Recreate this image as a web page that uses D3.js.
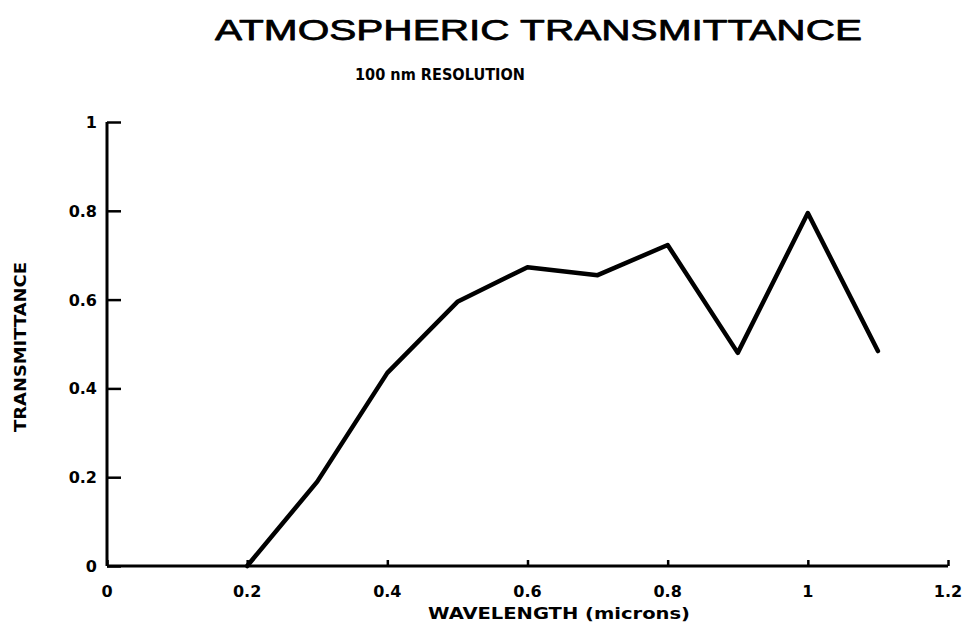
<!DOCTYPE html>
<html>
<head>
<meta charset="utf-8">
<script src="https://cdn.jsdelivr.net/npm/d3@7"></script>
<style>
  html, body { margin: 0; padding: 0; background: #fff; }
  svg { display: block; }
  text { font-family: "Liberation Sans", Arial, sans-serif; fill: #000; }
  .lbl { font-family: "DejaVu Sans", "Liberation Sans", sans-serif; font-weight: bold; }
</style>
</head>
<body>
<svg id="chart" width="967" height="627"></svg>
<script>
// Atmospheric transmittance sampled every 0.1 micron
const wavelengths = [0.2, 0.3, 0.4, 0.5, 0.6, 0.7, 0.8, 0.9, 1.0, 1.1];
const transmittance = [0.0, 0.19, 0.435, 0.595, 0.673, 0.655, 0.723, 0.48, 0.795, 0.484];
const xTicks = [0, 0.2, 0.4, 0.6, 0.8, 1, 1.2];
const yTicks = [0, 0.2, 0.4, 0.6, 0.8, 1];

const svg = d3.select("#chart");
const x = d3.scaleLinear().domain([0, 1.2]).range([107, 948]);
const y = d3.scaleLinear().domain([0, 1]).range([566, 122]);

// Titles
svg.append("text")
  .attr("x", 215).attr("y", 40)
  .attr("textLength", 647).attr("lengthAdjust", "spacingAndGlyphs")
  .style("font-size", "30px")
  .attr("stroke", "#000").attr("stroke-width", 0.75)
  .attr("stroke-linejoin", "round")
  .text("ATMOSPHERIC TRANSMITTANCE");
svg.append("text")
  .attr("class", "lbl")
  .attr("x", 355).attr("y", 80)
  .attr("textLength", 170).attr("lengthAdjust", "spacingAndGlyphs")
  .style("font-size", "15px")
  .text("100 nm RESOLUTION");

// X axis: ticks point up into the plot
const xAxis = svg.append("g")
  .attr("transform", `translate(0,${y(0)})`)
  .call(d3.axisTop(x).tickValues(xTicks).tickSize(6).tickFormat(""));
xAxis.select(".domain").remove();
xAxis.append("line")
  .attr("x1", x(0)).attr("x2", x(1.2))
  .attr("stroke", "#000").attr("stroke-width", 3);
xAxis.selectAll(".tick line").attr("stroke-width", 2.5);

svg.append("g").selectAll("text").data(xTicks).join("text")
  .attr("class", "lbl")
  .attr("x", d => x(d)).attr("y", 597)
  .attr("text-anchor", "middle")
  .style("font-size", "16px")
  .text(d => d3.format("")(d));

// Y axis: ticks point right into the plot
const yAxis = svg.append("g")
  .attr("transform", `translate(${x(0)},0)`)
  .call(d3.axisRight(y).tickValues(yTicks).tickSize(14).tickFormat(""));
yAxis.select(".domain").remove();
yAxis.append("line")
  .attr("y1", y(0)).attr("y2", y(1))
  .attr("stroke", "#000").attr("stroke-width", 3);
yAxis.selectAll(".tick line").attr("stroke-width", 2.5);

svg.append("g").selectAll("text").data(yTicks).join("text")
  .attr("class", "lbl")
  .attr("x", 97).attr("y", d => y(d) + 6)
  .attr("text-anchor", "end")
  .style("font-size", "16px")
  .text(d => d3.format("")(d));

// Axis titles
svg.append("text")
  .attr("class", "lbl")
  .attr("x", 428).attr("y", 619)
  .attr("textLength", 262).attr("lengthAdjust", "spacingAndGlyphs")
  .style("font-size", "16px")
  .text("WAVELENGTH (microns)");
svg.append("text")
  .attr("class", "lbl")
  .attr("transform", "translate(26,432) rotate(-90)")
  .attr("textLength", 170).attr("lengthAdjust", "spacingAndGlyphs")
  .style("font-size", "15px")
  .text("TRANSMITTANCE");

// Transmittance curve
const line = d3.line()
  .x((d, i) => x(wavelengths[i]))
  .y(d => y(d));
svg.append("path")
  .datum(transmittance)
  .attr("d", line)
  .attr("fill", "none")
  .attr("stroke", "#000")
  .attr("stroke-width", 4.5)
  .attr("stroke-linejoin", "round")
  .attr("stroke-linecap", "round");
</script>
</body>
</html>
